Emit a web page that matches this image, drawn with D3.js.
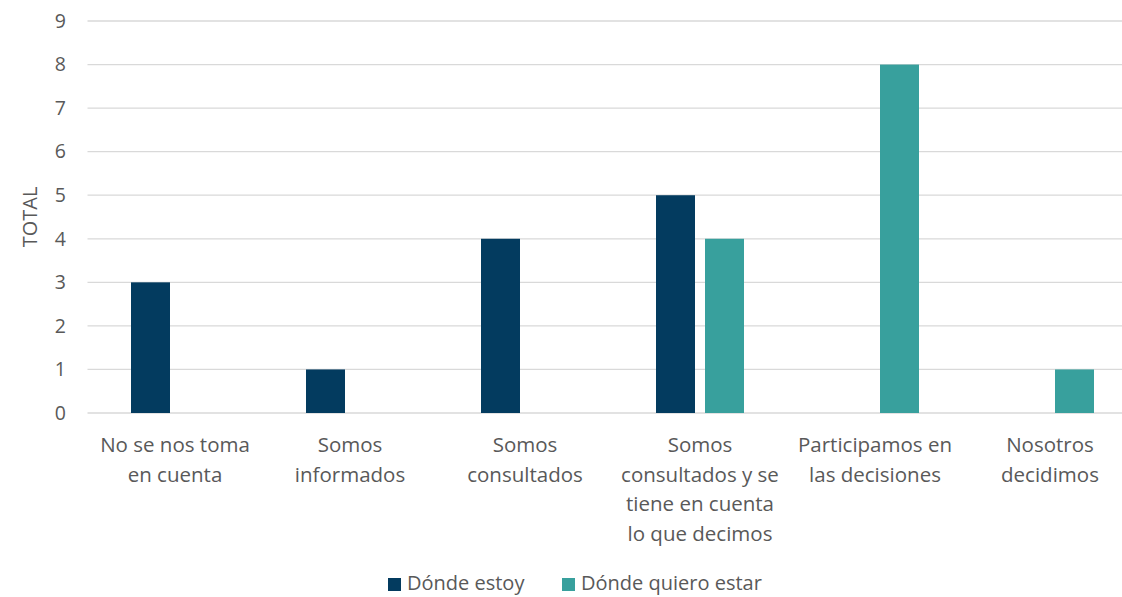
<!DOCTYPE html>
<html>
<head>
<meta charset="utf-8">
<script src="https://cdn.jsdelivr.net/npm/d3@7"></script>
<style>
  body { margin: 0; background: #fff; }
  text { font-family: "Open Sans", "Liberation Sans", sans-serif; fill: #595959; }
</style>
</head>
<body>
<svg width="1122" height="597"></svg>
<script>
// Data
const categories = [
    ["No se nos toma", "en cuenta"],
    ["Somos", "informados"],
    ["Somos", "consultados"],
    ["Somos", "consultados y se", "tiene en cuenta", "lo que decimos"],
    ["Participamos en", "las decisiones"],
    ["Nosotros", "decidimos"]
];
const seriesNames = ["Dónde estoy", "Dónde quiero estar"];
const estoy = [3, 1, 4, 5, 0, 0];
const quiero = [0, 0, 0, 4, 8, 1];
const yTicks = [0, 1, 2, 3, 4, 5, 6, 7, 8, 9];
const colors = ["#033B5F", "#38A09D"];

const svg = d3.select("svg"),
    width = +svg.attr("width"),
    height = +svg.attr("height");

// Plot area (right side runs past the canvas, like the source)
const plotLeft = 87.5, plotRight = 1137.5, plotTop = 21, plotBottom = 413;

let x = d3.scaleBand()
    .domain(d3.range(categories.length))
    .range([plotLeft, plotRight]);

let y = d3.scaleLinear()
    .domain([0, 9])
    .range([plotBottom, plotTop]);

// Gridlines
svg.append("g")
    .selectAll("line")
    .data(yTicks)
    .enter().append("line")
    .attr("x1", plotLeft)
    .attr("x2", plotRight)
    .attr("y1", d => y(d))
    .attr("y2", d => y(d))
    .attr("stroke", "#D9D9D9")
    .attr("stroke-width", 1.3);

// Y tick labels
svg.append("g")
    .selectAll("text")
    .data(yTicks)
    .enter().append("text")
    .attr("x", 66)
    .attr("y", d => y(d))
    .attr("dy", "0.35em")
    .attr("text-anchor", "end")
    .style("font-size", "19.5px")
    .text(d => d);

// Y axis title
svg.append("text")
    .attr("transform", "translate(37," + ((plotTop + plotBottom) / 2) + ") rotate(-90)")
    .attr("text-anchor", "middle")
    .style("font-size", "20px")
    .text("TOTAL");

// Bars
const barW = 39, gap = 10;
const series = [estoy, quiero];
series.forEach(function(vals, s) {
    svg.append("g")
        .selectAll("rect")
        .data(vals.map((v, i) => ({v: v, i: i})).filter(d => d.v > 0))
        .enter().append("rect")
        .attr("x", d => x(d.i) + x.bandwidth() / 2 + (s === 0 ? -(gap / 2 + barW) : gap / 2))
        .attr("width", barW)
        .attr("y", d => y(d.v))
        .attr("height", d => y(0) - y(d.v))
        .attr("fill", colors[s]);
});

// Category labels
let catG = svg.append("g")
    .selectAll("text")
    .data(categories)
    .enter().append("text")
    .attr("text-anchor", "middle")
    .attr("x", (d, i) => x(i) + x.bandwidth() / 2)
    .attr("y", 452)
    .style("font-size", "20.5px");

catG.selectAll("tspan")
    .data(d => d)
    .enter().append("tspan")
    .attr("x", function() { return d3.select(this.parentNode).attr("x"); })
    .attr("dy", (d, i) => i === 0 ? 0 : 29.5)
    .text(d => d);

// Legend
const legendX = [388, 562];
seriesNames.forEach(function(name, s) {
    svg.append("rect")
        .attr("x", legendX[s])
        .attr("y", 578)
        .attr("width", 13)
        .attr("height", 13)
        .attr("fill", colors[s]);
    svg.append("text")
        .attr("x", legendX[s] + 19)
        .attr("y", 584)
        .attr("dy", "0.32em")
        .style("font-size", "20px")
        .text(name);
});
</script>
</body>
</html>
